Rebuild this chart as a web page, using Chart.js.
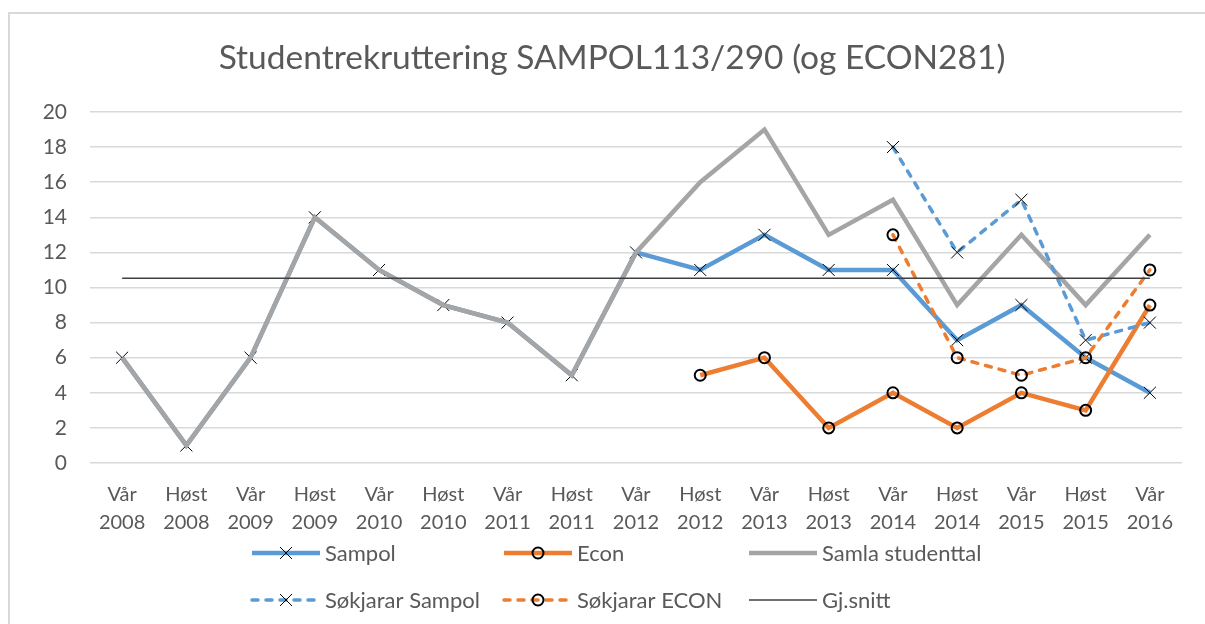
<!DOCTYPE html>
<html>
<head>
<meta charset="utf-8">
<script src="https://cdn.jsdelivr.net/npm/chart.js@4/dist/chart.umd.min.js"></script>
<style>
html,body{margin:0;padding:0;background:#fff;overflow:hidden}
#wrap{width:1205px;height:624px;position:relative}
</style>
</head>
<body>
<div id="wrap"><canvas id="c" width="1205" height="624"></canvas></div>
<script>
// ---- data ----
const seasons = ['Vår','Høst','Vår','Høst','Vår','Høst','Vår','Høst','Vår','Høst','Vår','Høst','Vår','Høst','Vår','Høst','Vår'];
const years   = ['2008','2008','2009','2009','2010','2010','2011','2011','2012','2012','2013','2013','2014','2014','2015','2015','2016'];
const sampol  = [6,1,6,14,11,9,8,5,12,11,13,11,11,7,9,6,4];
const econ    = [null,null,null,null,null,null,null,null,null,5,6,2,4,2,4,3,9];
const samla   = [6,1,6,14,11,9,8,5,12,16,19,13,15,9,13,9,13];
const sokjararSampol = [null,null,null,null,null,null,null,null,null,null,null,null,18,12,15,7,8];
const sokjararEcon   = [null,null,null,null,null,null,null,null,null,null,null,null,13,6,5,6,11];
const gjSnitt = [10.53,10.53,10.53,10.53,10.53,10.53,10.53,10.53,10.53,10.53,10.53,10.53,10.53,10.53,10.53,10.53,10.53];
const yMin = 0, yMax = 20, yStep = 2;
const seriesNames = ['Sampol','Econ','Samla studenttal','Søkjarar Sampol','Søkjarar ECON','Gj.snitt'];

const labels = seasons.map((s,i) => [s, years[i]]);

const BLUE = '#5B9BD5', ORANGE = '#ED7D31', GRAY = '#A5A5A5', TXT = '#595959';
const FONT = 'Lato';

const frame = {
  id: 'frame',
  beforeDraw(chart) {
    const ctx = chart.ctx;
    ctx.save();
    ctx.fillStyle = '#fff';
    ctx.fillRect(0,0,chart.width,chart.height);
    ctx.strokeStyle = '#d9d9d9';
    ctx.lineWidth = 2;
    ctx.strokeRect(9, 13, 1400, 800);
    ctx.restore();
  }
};

const xlLegend = {
  id: 'xlLegend',
  afterDraw(chart, args, opts) {
    const ctx = chart.ctx;
    const ds = chart.data.datasets;
    opts.items.forEach(it => {
      const d = ds[it.index];
      const x1 = it.x - 5, x0 = x1 - opts.sampleWidth, y = it.y;
      ctx.save();
      ctx.strokeStyle = d.borderColor;
      ctx.lineWidth = d.borderWidth;
      ctx.lineCap = d.borderCapStyle || 'butt';
      ctx.setLineDash(d.borderDash || []);
      ctx.beginPath(); ctx.moveTo(x0, y); ctx.lineTo(x1, y); ctx.stroke();
      ctx.setLineDash([]);
      if (d.pointRadius > 0) {
        ctx.strokeStyle = d.pointBorderColor;
        ctx.fillStyle = 'rgba(0,0,0,0)';
        ctx.lineWidth = d.pointBorderWidth;
        ctx.lineCap = 'butt';
        Chart.helpers.drawPoint(ctx, {pointStyle: d.pointStyle, radius: d.pointRadius, borderWidth: d.pointBorderWidth, rotation: 0}, (x0 + x1) / 2, y);
      }
      ctx.fillStyle = TXT;
      ctx.font = opts.fontSize + 'px ' + FONT;
      ctx.textBaseline = 'middle';
      ctx.textAlign = 'left';
      ctx.fillText(d.label, it.x, y + 1);
      ctx.restore();
    });
  }
};

const xDs = {pointStyle:'crossRot', pointRadius:8.5, pointBorderColor:'#000', pointBorderWidth:1, pointBackgroundColor:'rgba(0,0,0,0)'};
const oDs = {pointStyle:'circle', pointRadius:5.5, pointBorderColor:'#000', pointBorderWidth:2, pointBackgroundColor:'rgba(0,0,0,0)'};

new Chart(document.getElementById('c'), {
  type: 'line',
  data: {
    labels: labels,
    datasets: [
      Object.assign({label: seriesNames[0], data: sampol, borderColor: BLUE, borderWidth: 4.5, order: 6}, xDs),
      Object.assign({label: seriesNames[1], data: econ, borderColor: ORANGE, borderWidth: 4.5, order: 5}, oDs),
      {label: seriesNames[2], data: samla, borderColor: GRAY, borderWidth: 4.5, pointRadius: 0, order: 4},
      Object.assign({label: seriesNames[3], data: sokjararSampol, borderColor: BLUE, borderWidth: 3.5, borderDash: [6, 8], borderCapStyle: 'round', order: 3}, xDs),
      Object.assign({label: seriesNames[4], data: sokjararEcon, borderColor: ORANGE, borderWidth: 3.5, borderDash: [6, 8], borderCapStyle: 'round', order: 2}, oDs),
      {label: seriesNames[5], data: gjSnitt, borderColor: '#404040', borderWidth: 1.5, pointRadius: 0, order: 1}
    ]
  },
  options: {
    responsive: false,
    animation: false,
    events: [],
    spanGaps: false,
    layout: {padding: {top: 38, left: 42, right: 23, bottom: 87}},
    plugins: {
      legend: {display: false},
      tooltip: {enabled: false},
      title: {
        display: true,
        text: 'Studentrekruttering SAMPOL113/290 (og ECON281)',
        color: TXT,
        font: {family: FONT, size: 33.5, weight: 'normal', lineHeight: 1.2},
        padding: {top: 0, bottom: 33.8}
      },
      xlLegend: {
        sampleWidth: 68,
        fontSize: 22,
        items: [
          {index: 0, x: 325, y: 553},
          {index: 1, x: 577, y: 553},
          {index: 2, x: 822, y: 553},
          {index: 3, x: 325, y: 600},
          {index: 4, x: 577, y: 600},
          {index: 5, x: 822, y: 600}
        ]
      }
    },
    scales: {
      x: {
        offset: true,
        grid: {display: false, drawTicks: false},
        border: {display: false},
        ticks: {color: TXT, font: {family: FONT, size: 20, lineHeight: 1.4}, padding: 18, maxRotation: 0, autoSkip: false},
        afterFit(s) { s.height = 74; }
      },
      y: {
        min: yMin, max: yMax,
        grid: {color: '#d9d9d9', lineWidth: 1.5, drawTicks: false},
        border: {display: false},
        ticks: {stepSize: yStep, color: TXT, font: {family: FONT, size: 21}, padding: 23},
        afterFit(s) { s.width = 48; }
      }
    }
  },
  plugins: [frame, xlLegend]
});
</script>
</body>
</html>
